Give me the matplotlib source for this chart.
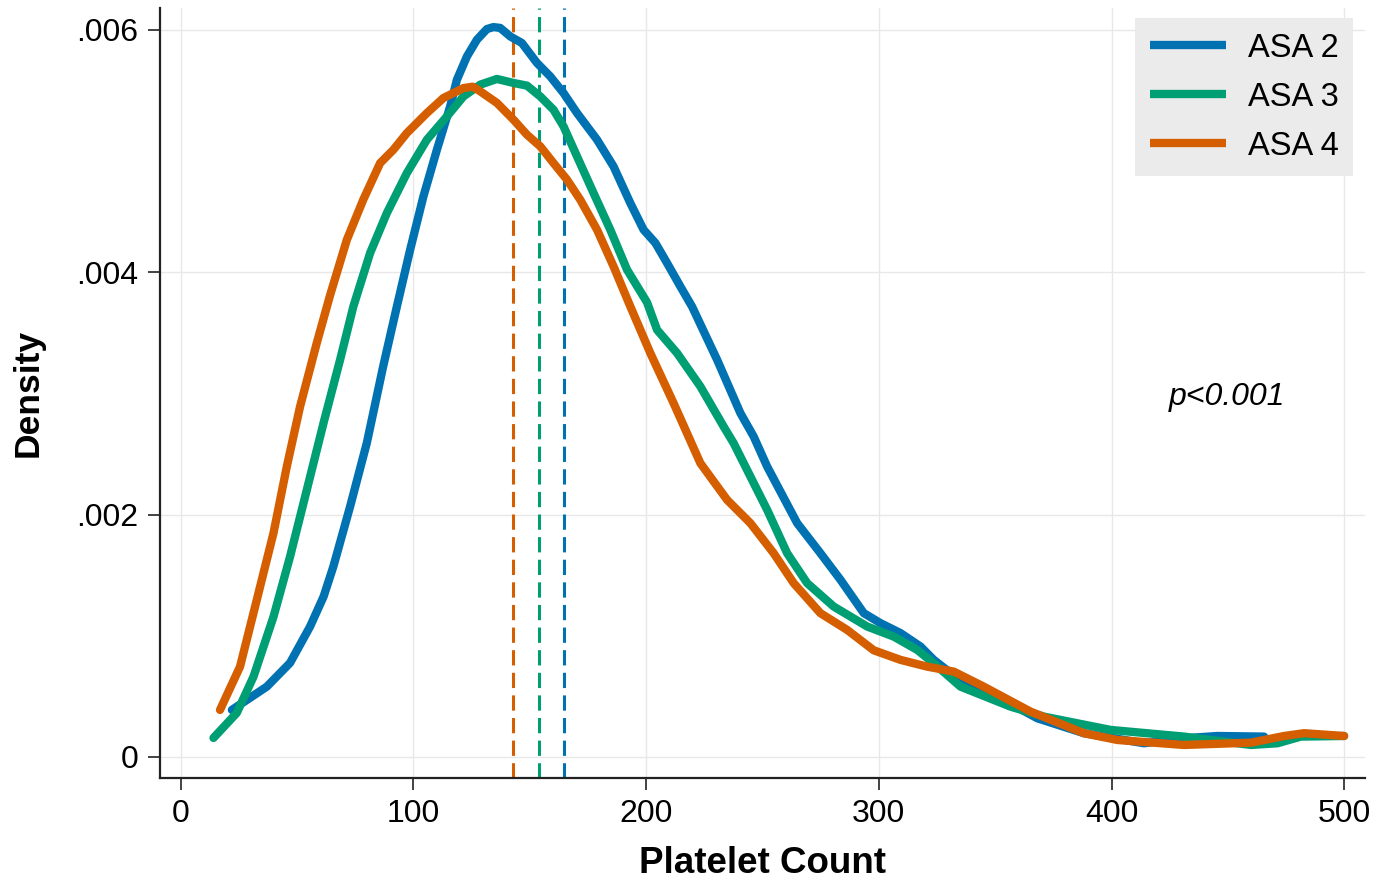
import matplotlib
matplotlib.use("Agg")
import matplotlib.pyplot as plt

plt.rcParams['font.family'] = ['Liberation Sans', 'DejaVu Sans']

# kernel density curves
asa2_x = [22.0, 37.0, 47.0, 55.6, 61.4, 65.6, 72.8, 80.0, 87.0, 92.9, 98.6, 104.3, 110.1,
          115.8, 118.7, 123.0, 127.3, 131.6, 134.4, 137.3, 141.6, 146.6, 153.1, 158.8,
          164.5, 170.3, 178.9, 186.0, 193.2, 198.9, 204.0, 209.0, 214.7, 219.7, 230.5,
          240.5, 246.2, 252.0, 264.9, 274.9, 283.5, 293.5, 300.7, 309.3, 317.9, 323.6,
          333.7, 350.9, 368.1, 388.1, 413.9, 431.1, 445.4, 465.5]
asa2_y = [0.000388, 0.000580, 0.000776, 0.001076, 0.001323, 0.001571, 0.002066, 0.002592,
          0.003222, 0.003717, 0.004185, 0.004625, 0.005010, 0.005368, 0.005588, 0.005780,
          0.005918, 0.006006, 0.006022, 0.006015, 0.005945, 0.005891, 0.005726, 0.005615,
          0.005478, 0.005313, 0.005093, 0.004872, 0.004570, 0.004350, 0.004240, 0.004075,
          0.003882, 0.003717, 0.003277, 0.002837, 0.002644, 0.002396, 0.001929, 0.001681,
          0.001462, 0.001187, 0.001104, 0.001022, 0.000911, 0.000801, 0.000650, 0.000498,
          0.000319, 0.000196, 0.000113, 0.000154, 0.000173, 0.000168]

asa3_x = [14.1, 24.1, 31.3, 39.9, 47.0, 54.2, 61.4, 68.5, 74.2, 81.4, 88.6, 97.2, 105.8,
          114.4, 121.5, 128.7, 135.9, 143.0, 148.8, 154.5, 160.2, 164.5, 170.3, 177.4,
          184.6, 191.8, 200.4, 204.7, 213.3, 223.3, 233.3, 237.6, 244.8, 252.0, 260.6,
          269.2, 280.6, 295.0, 306.4, 316.5, 323.6, 335.1, 356.6, 370.9, 399.6, 431.1,
          459.9, 471.3, 481.3, 499.9]
asa3_y = [0.000157, 0.000363, 0.000663, 0.001158, 0.001653, 0.002204, 0.002757, 0.003277,
          0.003717, 0.004158, 0.004488, 0.004818, 0.005093, 0.005285, 0.005450, 0.005547,
          0.005594, 0.005561, 0.005539, 0.005450, 0.005340, 0.005203, 0.004955, 0.004653,
          0.004350, 0.004020, 0.003750, 0.003524, 0.003332, 0.003057, 0.002726, 0.002589,
          0.002314, 0.002039, 0.001681, 0.001434, 0.001241, 0.001076, 0.000993, 0.000883,
          0.000773, 0.000580, 0.000415, 0.000333, 0.000223, 0.000168, 0.000099, 0.000113,
          0.000168, 0.000173]

asa4_x = [16.9, 25.5, 32.7, 39.9, 45.6, 51.3, 58.5, 64.2, 71.4, 78.5, 85.7, 91.4, 97.2,
          105.8, 112.9, 121.5, 125.5, 128.7, 135.9, 143.0, 148.8, 154.5, 160.2, 166.0,
          171.7, 178.9, 186.0, 193.2, 201.8, 211.8, 223.3, 234.8, 244.8, 254.8, 263.4,
          274.9, 286.4, 297.8, 309.3, 320.8, 332.2, 345.1, 365.2, 388.1, 402.5, 431.1,
          459.9, 474.1, 482.7, 499.9]
asa4_y = [0.000388, 0.000745, 0.001296, 0.001849, 0.002396, 0.002891, 0.003417, 0.003810,
          0.004267, 0.004600, 0.004900, 0.005010, 0.005148, 0.005313, 0.005437, 0.005519,
          0.005530, 0.005492, 0.005396, 0.005258, 0.005134, 0.005038, 0.004900, 0.004763,
          0.004597, 0.004350, 0.004047, 0.003717, 0.003332, 0.002919, 0.002424, 0.002121,
          0.001929, 0.001681, 0.001434, 0.001186, 0.001048, 0.000880, 0.000801, 0.000745,
          0.000704, 0.000580, 0.000374, 0.000196, 0.000140, 0.000099, 0.000118, 0.000173,
          0.000196, 0.000173]

labels = ['ASA 2', 'ASA 3', 'ASA 4']
colors = ['#0072B2', '#009E73', '#D55E00']
means = [164.8, 153.8, 142.8]

fig = plt.figure(figsize=(13.91, 8.82), dpi=100)
ax = fig.add_axes([0.115, 0.118, 0.8665, 0.873])

curves = [(asa2_x, asa2_y), (asa3_x, asa3_y), (asa4_x, asa4_y)]
for (xs, ys), lab, c in zip(curves, labels, colors):
    ax.plot(xs, ys, color=c, lw=6.0, label=lab,
            solid_capstyle='round', solid_joinstyle='round', zorder=3)

for m, c in zip(means, colors):
    ax.axvline(m, color=c, lw=2.2, dashes=(5, 2.4), zorder=2)

ax.set_xlim(-8.9, 509)
ax.set_ylim(-0.000173, 0.00618)
ax.set_xticks([0, 100, 200, 300, 400, 500])
ax.set_yticks([0, 0.002, 0.004, 0.006])
ax.set_yticklabels(['0', '.002', '.004', '.006'])
ax.grid(True, color='#e8e8e8', lw=1.0, zorder=0)
ax.set_axisbelow(True)

for s in ['top', 'right']:
    ax.spines[s].set_visible(False)
for s in ['left', 'bottom']:
    ax.spines[s].set_linewidth(1.6)
    ax.spines[s].set_color('#222222')
ax.tick_params(axis='both', labelsize=23, length=8.5, width=1.2, pad=7, colors='#222222',
               labelcolor='black')

ax.set_xlabel('Platelet Count', fontsize=26.5, fontweight='bold', labelpad=12)
ax.set_ylabel('Density', fontsize=25.5, fontweight='bold', labelpad=23)

ax.text(424.5, 0.00297, 'p<0.001', fontsize=23, style='italic', ha='left', va='center')

leg = ax.legend(loc='upper right', bbox_to_anchor=(0.99, 0.987), fontsize=23.5,
                frameon=True, fancybox=False, handlelength=2.35, handletextpad=0.65,
                labelspacing=0.55, borderpad=0.45, borderaxespad=0)
leg.get_frame().set_facecolor('#ebebeb')
leg.get_frame().set_edgecolor('none')
leg.get_frame().set_alpha(1)
for h in leg.get_lines():
    h.set_linewidth(6)
    h.set_solid_capstyle('butt')

fig.savefig('out.png', dpi=100)
